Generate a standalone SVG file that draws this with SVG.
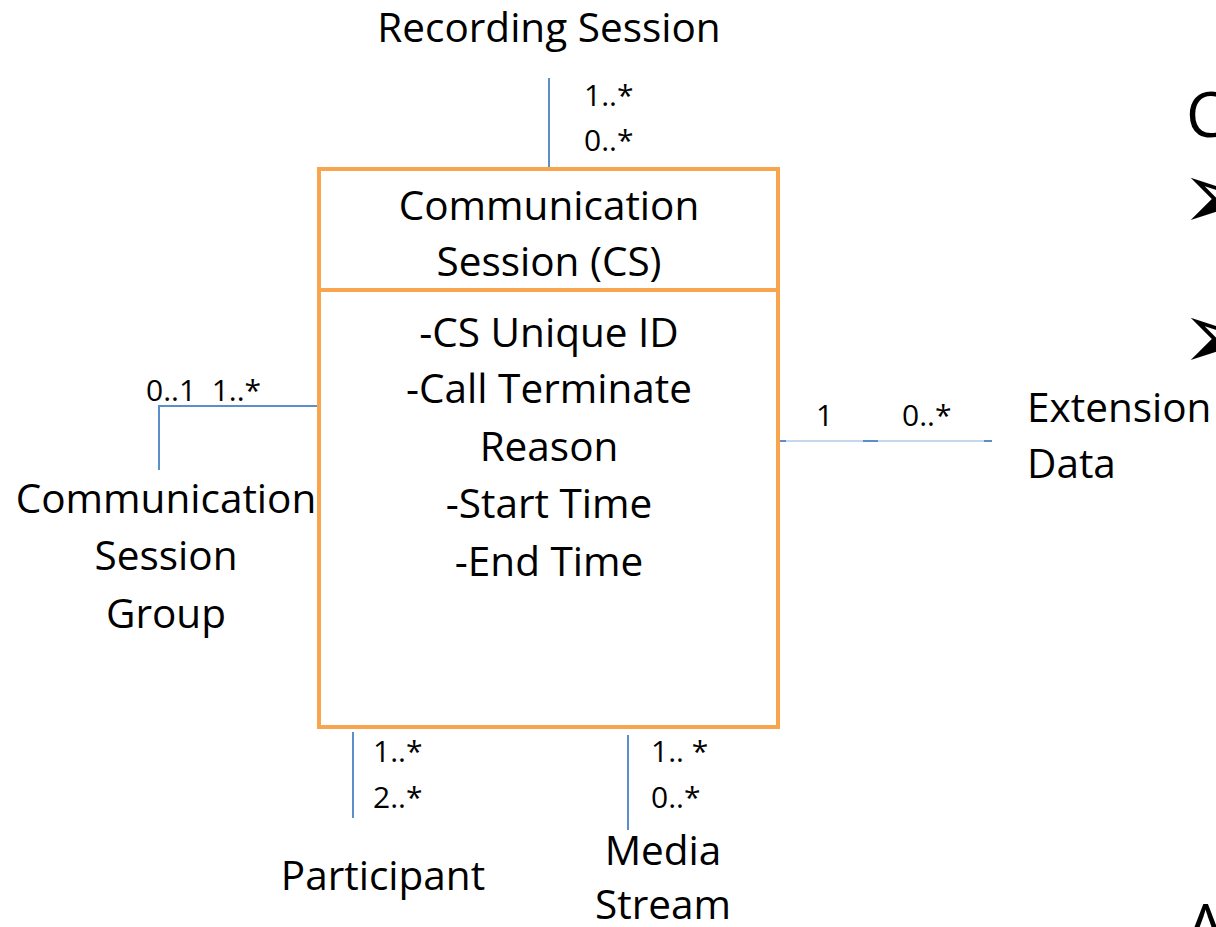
<svg xmlns="http://www.w3.org/2000/svg" width="1216" height="927" viewBox="0 0 1216 927">
<style>
.t{font-family:"Open Sans","Liberation Sans",sans-serif;fill:#000}
.big{font-size:40.5px}
.sm{font-size:30px}
.c{text-anchor:middle}
.ln{stroke:#5B8FCB;stroke-width:2;fill:none}
.box{fill:#fff;stroke:#F8A54E;stroke-width:4}
.ar{font-family:"DejaVu Sans",sans-serif;font-size:96px}
</style>
<rect width="1216" height="927" fill="#fff"/>
<g id="connectors">
<line class="ln" x1="549" y1="78" x2="549" y2="168"/>
<polyline class="ln" points="318,406 159,406 159,470"/>
<line x1="778" y1="441" x2="992" y2="441" stroke-width="1" stroke="#8DB0DA"/>
<line class="ln" x1="778" y1="441" x2="786" y2="441"/>
<line class="ln" x1="863" y1="441" x2="878" y2="441"/>
<line class="ln" x1="984" y1="441" x2="992" y2="441"/>
<line class="ln" x1="353" y1="732" x2="353" y2="818"/>
<line class="ln" x1="628" y1="735" x2="628" y2="830"/>
<text class="t sm" x="584" y="106">1..*</text>
<text class="t sm" x="584" y="151">0..*</text>
<text class="t sm" x="146" y="401" xml:space="preserve">0..1  1..*</text>
<text class="t sm" x="816" y="426">1</text>
<text class="t sm" x="902" y="426">0..*</text>
<text class="t sm" x="373" y="762">1..*</text>
<text class="t sm" x="373" y="808">2..*</text>
<text class="t sm" x="651" y="762" xml:space="preserve">1.. *</text>
<text class="t sm" x="651" y="808">0..*</text>
</g>
<g id="cs">
<rect class="box" x="319" y="169" width="459" height="558"/>
<line x1="319" y1="290" x2="778" y2="290" stroke="#F8A54E" stroke-width="4"/>
<text class="t big c" x="549" y="220">Communication</text>
<text class="t big c" x="549" y="276">Session (CS)</text>
<text class="t big c" x="549" y="347">-CS Unique ID</text>
<text class="t big c" x="549" y="403">-Call Terminate</text>
<text class="t big c" x="549" y="461">Reason</text>
<text class="t big c" x="549" y="518">-Start Time</text>
<text class="t big c" x="549" y="576">-End Time</text>
</g>
<g id="recording">
<text class="t big c" x="549" y="42">Recording Session</text>
</g>
<g id="group">
<text class="t big c" x="166" y="513">Communication</text>
<text class="t big c" x="166" y="570">Session</text>
<text class="t big c" x="166" y="628">Group</text>
</g>
<g id="extension">
<text class="t big" x="1027" y="422">Extension</text>
<text class="t big" x="1027" y="478">Data</text>
</g>
<g id="participant">
<text class="t big c" x="383" y="890">Participant</text>
</g>
<g id="media">
<text class="t big c" x="663" y="865">Media</text>
<text class="t big c" x="663" y="919">Stream</text>
</g>
<g id="side">
<text class="t" style="font-size:62px" x="1186" y="137">C</text>
<text class="ar" x="1180" y="229">➢</text>
<text class="ar" x="1180" y="369">➢</text>
<text class="t" style="font-size:62px" x="1186" y="949">A</text>
</g>
</svg>
